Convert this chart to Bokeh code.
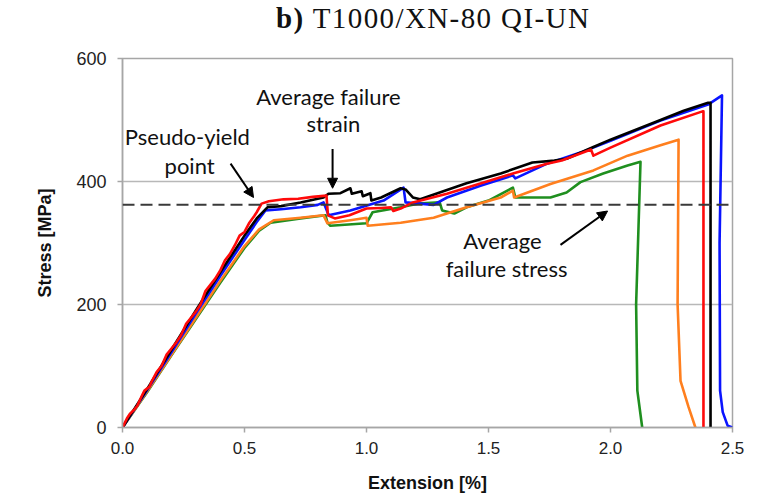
from bokeh.plotting import figure
from bokeh.models import Range1d, Span, Arrow, NormalHead, Label, FixedTicker, Div
from bokeh.layouts import column
from bokeh.embed import file_html
from bokeh.resources import INLINE

# Stress-extension curves of five T1000/XN-80 QI-UN specimens
x_red = [0, 0.02, 0.03, 0.05, 0.06, 0.08, 0.09, 0.11, 0.12, 0.14, 0.16, 0.18, 0.20, 0.22, 0.24, 0.26,
         0.28, 0.30, 0.32, 0.34, 0.36, 0.38, 0.40, 0.42, 0.44, 0.46, 0.48, 0.50, 0.52, 0.54, 0.55, 0.57,
         0.60, 0.66, 0.72, 0.78, 0.836, 0.842, 0.87, 0.93, 1.00, 1.06, 1.10, 1.11, 1.14, 1.19, 1.33, 1.47,
         1.60, 1.74, 1.80, 1.92, 1.93, 2.00, 2.205, 2.377, 2.381, 2.381]
y_red = [0, 16, 22, 30, 35, 52, 60, 66, 75, 90, 100, 118, 128, 138, 150, 168,
         178, 188, 200, 222, 232, 242, 255, 272, 282, 296, 312, 318, 333, 344, 350, 364,
         368, 371, 372, 375, 377, 345, 340, 345, 356, 357, 358, 352, 356, 366, 380, 397,
         413, 429, 434, 452, 442, 455, 491, 514, 514, 0]

x_black = [0, 0.1, 0.2, 0.3, 0.4, 0.5, 0.55, 0.594, 0.65, 0.73, 0.80, 0.824, 0.844, 0.893, 0.934, 0.94,
           0.98, 0.985, 1.016, 1.02, 1.06, 1.14, 1.16, 1.19, 1.22, 1.30, 1.41, 1.55, 1.68, 1.77, 1.82,
           1.93, 2.00, 2.205, 2.30, 2.40, 2.41, 2.41]
y_black = [0, 62, 126, 190, 252, 312, 340, 358, 360, 366, 372, 374, 380, 381, 389, 380,
           384, 376, 381, 369, 374, 389, 387, 374, 371, 382, 397, 413, 431, 434, 437,
           456, 468, 500, 515, 528, 528, 0]

x_blue = [0, 0.1, 0.2, 0.3, 0.4, 0.5, 0.55, 0.586, 0.65, 0.73, 0.80, 0.824, 0.83, 0.845, 0.934, 1.07,
          1.152, 1.16, 1.275, 1.33, 1.467, 1.60, 1.61, 1.74, 1.877, 2.00, 2.205, 2.40, 2.457, 2.447,
          2.449, 2.46, 2.48, 2.50]
y_blue = [0, 60, 122, 185, 246, 305, 334, 353, 355, 358, 362, 366, 360, 345, 353, 369,
          390, 366, 362, 374, 393, 410, 405, 429, 447, 466, 499, 525, 540, 300,
          60, 25, 3, 0]

x_orange = [0, 0.1, 0.2, 0.3, 0.4, 0.5, 0.56, 0.62, 0.73, 0.824, 0.84, 0.934, 1.00, 1.005, 1.14, 1.275,
            1.41, 1.55, 1.60, 1.605, 1.754, 1.93, 2.07, 2.205, 2.279, 2.275, 2.287, 2.32, 2.348]
y_orange = [0, 58, 118, 178, 238, 295, 322, 337, 341, 345, 332, 337, 341, 328, 333, 341,
            358, 374, 385, 374, 396, 418, 442, 459, 468, 200, 76, 33, 0]

x_green = [0, 0.1, 0.2, 0.3, 0.4, 0.5, 0.56, 0.607, 0.73, 0.832, 0.84, 0.852, 1.00, 1.025, 1.14, 1.21,
           1.30, 1.31, 1.36, 1.41, 1.50, 1.60, 1.61, 1.754, 1.82, 1.877, 1.97, 2.07, 2.123, 2.105,
           2.11, 2.13]
y_green = [0, 57, 117, 176, 235, 292, 320, 333, 340, 345, 333, 328, 332, 350, 358, 364,
           366, 353, 348, 358, 369, 390, 374, 374, 382, 399, 413, 426, 432, 200,
           60, 0]

avg_failure_stress = 362

x_ticks = [0, 0.5, 1.0, 1.5, 2.0, 2.5]
y_ticks = [0, 200, 400, 600]

title = Div(text='<div style="padding-left:276px;padding-top:1px;white-space:nowrap;letter-spacing:1.4px;'
                 'font-family:\'Liberation Serif\',serif;font-size:29px;color:#111111;line-height:34px">'
                 '<b>b)</b> T1000/XN-80 QI-UN</div>',
            width=769, height=40, margin=(0, 0, 0, 0))

p = figure(width=769, height=458, x_range=Range1d(0, 2.5), y_range=Range1d(0, 600),
           output_backend="svg", toolbar_location=None, margin=(0, 0, 0, 0),
           min_border_left=122, min_border_right=37, min_border_top=18, min_border_bottom=71)
p.background_fill_color = "white"
p.border_fill_color = "white"
p.outline_line_color = "#a6a6a6"
p.outline_line_width = 1.5

p.xgrid.visible = False
p.ygrid.grid_line_color = "#b8b8b8"
p.ygrid.grid_line_width = 1.3

p.xaxis.ticker = FixedTicker(ticks=x_ticks)
p.yaxis.ticker = FixedTicker(ticks=y_ticks)
p.xaxis.major_label_overrides = {t: f"{t:.1f}" for t in x_ticks}
for ax in (p.xaxis, p.yaxis):
    ax.axis_line_color = "#a6a6a6"
    ax.axis_line_width = 1.5
    ax.major_tick_line_color = "#a6a6a6"
    ax.major_tick_line_width = 1.5
    ax.major_tick_in = 0
    ax.major_tick_out = 5
    ax.minor_tick_line_color = None
    ax.major_label_text_font = "Liberation Sans"
    ax.major_label_text_color = "#222222"
    ax.axis_label_text_font = "Liberation Sans"
    ax.axis_label_text_font_size = "18px"
    ax.axis_label_text_font_style = "bold"
    ax.axis_label_text_color = "#111111"
p.xaxis.major_label_text_font_size = "17px"
p.yaxis.major_label_text_font_size = "18px"
p.xaxis.axis_label = "Extension [%]"
p.yaxis.axis_label = "Stress [MPa]"
p.xaxis.major_label_standoff = 9
p.yaxis.major_label_standoff = 11
p.xaxis.axis_label_standoff = 16
p.yaxis.axis_label_standoff = 18

p.add_layout(Span(location=avg_failure_stress, dimension="width", line_color="#3a3a3a",
                  line_width=2, line_dash="12 6"))

for xs, ys, col in [(x_green, y_green, "#1f8f1f"), (x_orange, y_orange, "#ff7f1e"),
                    (x_blue, y_blue, "#0a14ff"), (x_black, y_black, "#000000"),
                    (x_red, y_red, "#ff0a0a")]:
    p.line(xs, ys, line_color=col, line_width=2.6, line_join="round")

# Annotations
note_font = "Lato"
note_size = "22px"
for tx, ty, txt in [(0.266, 473, "Pseudo-yield"), (0.275, 426, "point"),
                    (0.844, 538, "Average failure"), (0.864, 494, "strain"),
                    (1.557, 304, "Average"), (1.574, 259, "failure stress")]:
    p.add_layout(Label(x=tx, y=ty, text=txt, text_font=note_font, text_font_size=note_size,
                       text_align="center", text_baseline="middle", text_color="#111111"))

for xs0, ys0, xe, ye in [(0.443, 429, 0.537, 374), (0.861, 453, 0.861, 389), (1.795, 297, 1.988, 352)]:
    p.add_layout(Arrow(end=NormalHead(size=10, fill_color="black", line_color="black"),
                       x_start=xs0, y_start=ys0, x_end=xe, y_end=ye,
                       line_color="black", line_width=2))

layout = column(title, p, margin=(0, 0, 0, 0), spacing=0)
open("out.html", "w").write(file_html(layout, INLINE))
